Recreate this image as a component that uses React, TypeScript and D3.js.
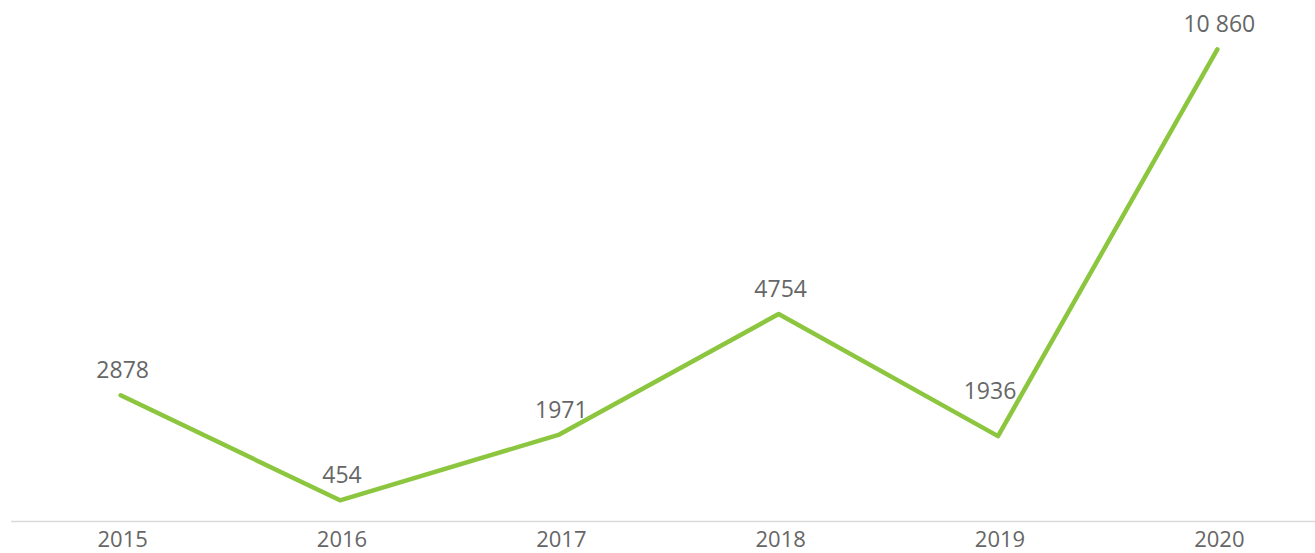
import { useMemo } from 'react'
import * as d3 from 'd3'

const WIDTH = 1315
const HEIGHT = 553

export const years = ['2015', '2016', '2017', '2018', '2019', '2020']
export const counts = [2878, 454, 1971, 4754, 1936, 10860]
export const yMax = 12000

// thousands separated by a space, like the source ("10 860"), only for 5+ digits
const fmt = (v: number) => (v >= 10000 ? d3.format(',')(v).replace(',', ' ') : String(v))

// the 2019 label is nudged up-left so it doesn't sit on the line
const labelNudge: Record<string, [number, number]> = { '2019': [-10, -20] }

const App = () => {
  const x = useMemo(() => d3.scaleBand().domain(years).range([11, 1327]), [])
  const y = useMemo(() => d3.scaleLinear().domain([0, yMax]).range([520, 0]), [])

  const points = years.map((yr, i) => ({
    year: yr,
    value: counts[i],
    cx: (x(yr) ?? 0) + x.bandwidth() / 2,
    cy: y(counts[i]),
  }))

  const line = d3
    .line<(typeof points)[number]>()
    .x((d) => d.cx)
    .y((d) => d.cy)

  const font = "'Open Sans', 'Liberation Sans', sans-serif"

  return (
    <div style={{ position: 'fixed', left: 0, top: 0, width: WIDTH, height: HEIGHT, background: '#fff' }}>
      <svg width={WIDTH} height={HEIGHT} style={{ display: 'block' }}>
        <line x1={11} x2={WIDTH} y1={521.5} y2={521.5} stroke="#d9d9d9" strokeWidth={1.5} />
        {years.map((yr) => (
          <text
            key={yr}
            x={(x(yr) ?? 0) + x.bandwidth() / 2 + 2}
            y={547}
            textAnchor="middle"
            fontFamily={font}
            fontSize={22}
            fill="#666"
          >
            {yr}
          </text>
        ))}
        <path
          d={line(points) ?? ''}
          fill="none"
          stroke="#8cc63f"
          strokeWidth={4.5}
          strokeLinecap="round"
          strokeLinejoin="round"
        />
        {points.map((p) => {
          const [dx, dy] = labelNudge[p.year] ?? [0, 0]
          return (
            <text
              key={p.year}
              x={p.cx + 2 + dx}
              y={p.cy - 17 + dy}
              textAnchor="middle"
              fontFamily={font}
              fontSize={23}
              fill="#666"
            >
              {fmt(p.value)}
            </text>
          )
        })}
      </svg>
    </div>
  )
}

export default App
